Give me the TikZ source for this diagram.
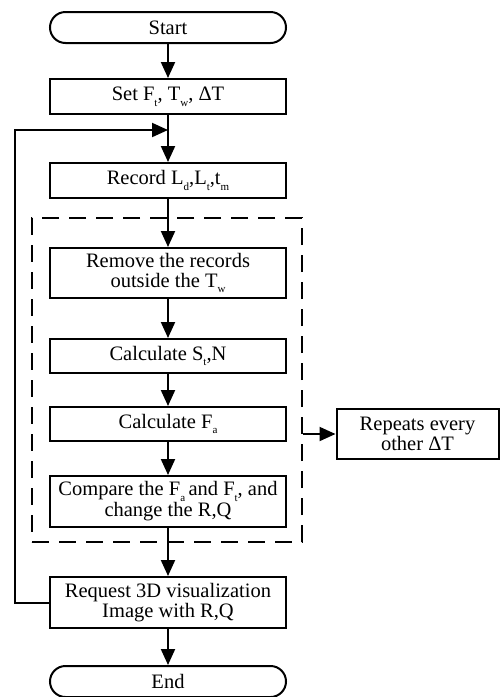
\documentclass[tikz,border=0pt]{standalone}
\usepackage{fontspec}
\setmainfont{Liberation Serif}
\usetikzlibrary{arrows.meta}
% small lowered index letters
\newcommand\idx[1]{\raisebox{-0.28em}{\fontsize{11}{11}\selectfont #1}}
\tikzset{
  box/.style={draw, line width=2pt, minimum width=236pt, inner sep=0pt, align=center,
              font=\fontsize{20.5}{20}\selectfont},
  term/.style={box, rounded corners=15.5pt, minimum height=31pt},
  arr/.style={line width=2pt, -{Triangle[length=16pt,width=14pt]}},
  grp/.style={draw, line width=2pt, dash pattern=on 17pt off 10pt, inner sep=0pt,
              minimum width=270pt, minimum height=324pt},
}
\begin{document}
\begin{tikzpicture}[x=1pt,y=-1pt]
\useasboundingbox (0,0) rectangle (500,697);
\node[term] (start) at (168,27.5) {Start};
\node[box, minimum height=35pt] (set) at (168,96.5) {Set F\idx{t}, T\idx{w}, ΔT};
\node[box, minimum height=35pt] (rec) at (168,180.5) {Record L\idx{d},L\idx{t},t\idx{m}};
\node[grp] (loop) at (167,380) {};
\node[box, minimum height=50pt] (rem) at (168,273) {Remove the records\\outside the T\idx{w}};
\node[box, minimum height=34pt] (st) at (168,356) {Calculate S\idx{t},N};
\node[box, minimum height=34pt] (fa) at (168,424) {Calculate F\idx{a}};
\node[box, minimum height=51pt] (cmp) at (168,501.5) {Compare the F\idx{a}\,and F\idx{t}, and\\change the R,Q};
\node[box, minimum height=51pt] (req) at (168,602.5) {Request 3D visualization\\Image with R,Q};
\node[term] (end) at (168,681.5) {End};
\node[box, minimum width=162pt, minimum height=50pt] (rep) at (417.5,434) {Repeats every\\other ΔT};
\coordinate (join) at (168,130);
\coordinate (corner) at (15,130);

\draw[arr] (start) -- (set);
\draw[arr] (set) -- (rec);
\draw[arr] (rec) -- (rem);
\draw[arr] (rem) -- (st);
\draw[arr] (st) -- (fa);
\draw[arr] (fa) -- (cmp);
\draw[arr] (cmp) -- (req);
\draw[arr] (req) -- (end);
\draw[arr] (req.west) -| (corner) -- (join);
\draw[arr] (loop.east |- rep.west) -- (rep.west);
\end{tikzpicture}
\end{document}
